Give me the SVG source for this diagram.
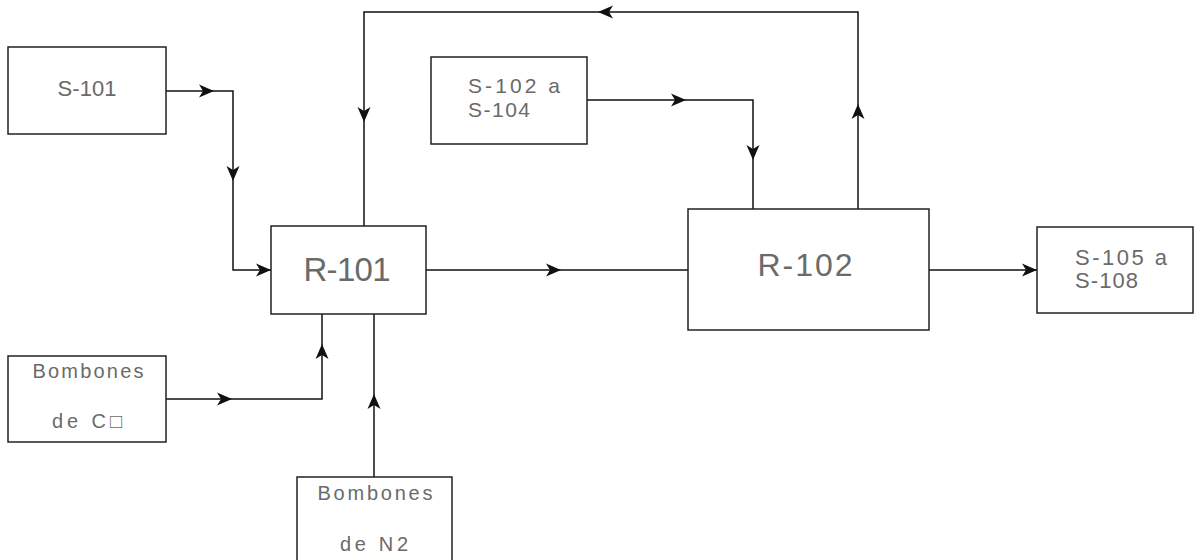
<svg xmlns="http://www.w3.org/2000/svg" xmlns:xlink="http://www.w3.org/1999/xlink" width="1199" height="560" viewBox="0 0 1199 560">
<style>
.box{fill:#fff;stroke:#222;stroke-width:1.5}
.ln{fill:none;stroke:#111;stroke-width:1.5}
.t{font-family:"Liberation Sans",Arial,sans-serif;fill:#6a6a6a;}
.c{text-anchor:middle}
</style>
<defs>
<path id="ah" d="M0,0 L-15,-6.5 L-11,0 L-15,6.5 Z" fill="#111"/>
</defs>
<rect width="1199" height="560" fill="#fff"/>
<g id="connectors">
<polyline class="ln" points="166,91 233,91 233,270 271,270"/>
<polyline class="ln" points="166,399 322,399 322,314"/>
<polyline class="ln" points="374,477 374,314"/>
<polyline class="ln" points="426,270 688,270"/>
<polyline class="ln" points="587,100 753,100 753,209"/>
<polyline class="ln" points="858,209 858,12 364,12 364,226"/>
<polyline class="ln" points="929,270 1037,270"/>
<use xlink:href="#ah" transform="translate(214,91)"/>
<use xlink:href="#ah" transform="translate(233,181) rotate(90)"/>
<use xlink:href="#ah" transform="translate(271,270)"/>
<use xlink:href="#ah" transform="translate(232,399)"/>
<use xlink:href="#ah" transform="translate(322,344) rotate(-90)"/>
<use xlink:href="#ah" transform="translate(374,394) rotate(-90)"/>
<use xlink:href="#ah" transform="translate(561,270)"/>
<use xlink:href="#ah" transform="translate(686,100)"/>
<use xlink:href="#ah" transform="translate(753,160) rotate(90)"/>
<use xlink:href="#ah" transform="translate(858,104) rotate(-90)"/>
<use xlink:href="#ah" transform="translate(598,12) rotate(180)"/>
<use xlink:href="#ah" transform="translate(364,122) rotate(90)"/>
<use xlink:href="#ah" transform="translate(1037,270)"/>
</g>
<g id="S-101">
<rect class="box" x="8" y="47" width="158" height="87"/>
<text class="t c" x="87" y="96" font-size="22" textLength="59">S-101</text>
</g>
<g id="Bombones-CO">
<rect class="box" x="8" y="356" width="158" height="86"/>
<text class="t c" x="88" y="378" font-size="20" textLength="111">Bombones</text>
<text class="t c" x="87" y="428" font-size="20" textLength="70">de C□</text>
</g>
<g id="Bombones-N2">
<rect class="box" x="297" y="477" width="155" height="100"/>
<text class="t c" x="375" y="500" font-size="20" textLength="115">Bombones</text>
<text class="t c" x="374" y="551" font-size="20" textLength="68">de N2</text>
</g>
<g id="S-102">
<rect class="box" x="431" y="57" width="156" height="87"/>
<text class="t" x="468" y="93" font-size="21" textLength="92">S-102  a</text>
<text class="t" x="468" y="117" font-size="21" textLength="62">S-104</text>
</g>
<g id="R-101">
<rect class="box" x="271" y="226" width="155" height="88"/>
<text class="t c" x="347" y="281" font-size="33" textLength="87">R-101</text>
</g>
<g id="R-102">
<rect class="box" x="688" y="209" width="241" height="121"/>
<text class="t c" x="805" y="276" font-size="32" textLength="95">R-102</text>
</g>
<g id="S-105">
<rect class="box" x="1037" y="227" width="156" height="86"/>
<text class="t" x="1075" y="265" font-size="22" textLength="92">S-105  a</text>
<text class="t" x="1075" y="288" font-size="22" textLength="63">S-108</text>
</g>
</svg>
